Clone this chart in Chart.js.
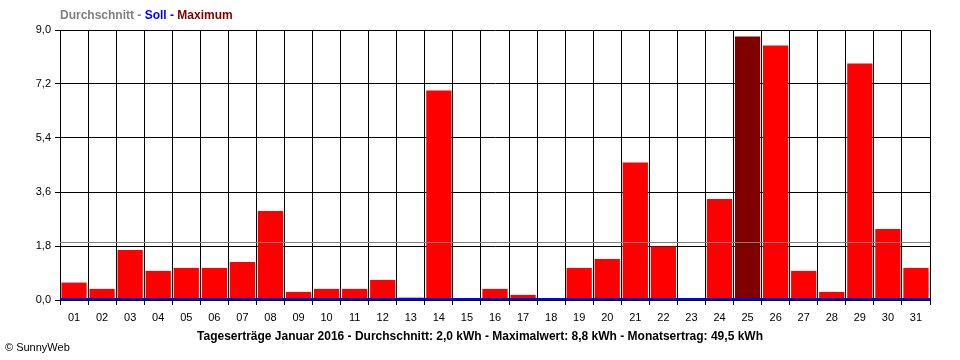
<!DOCTYPE html>
<html>
<head>
<meta charset="utf-8">
<script src="https://cdn.jsdelivr.net/npm/chart.js@4"></script>
<style>
  body { margin: 0; background: #fff; }
  #wrap { width: 960px; height: 360px; }
</style>
</head>
<body>
<div id="wrap"><canvas id="day-chart" width="960" height="360"></canvas></div>
<script>
// --- data -------------------------------------------------------------
const days = ['01','02','03','04','05','06','07','08','09','10','11','12','13','14','15','16',
              '17','18','19','20','21','22','23','24','25','26','27','28','29','30','31'];
const dailyYield = [0.58, 0.37, 1.67, 0.97, 1.07, 1.07, 1.27, 2.97, 0.27, 0.37, 0.37, 0.67, 0.08, 6.98, 0, 0.37,
                    0.17, 0, 1.07, 1.37, 4.58, 1.78, 0, 3.37, 8.78, 8.48, 0.97, 0.27, 7.88, 2.37, 1.07];
const yTickValues = [0, 1.8, 3.6, 5.4, 7.2, 9.0];
const averageValue = 1.95;   // Durchschnitt (graue Linie)
const targetValue = 0.05;    // Soll (blaue Linie)
const headerParts = [
  { text: 'Durchschnitt - ', color: '#808080' },
  { text: 'Soll - ', color: '#0000ff' },
  { text: 'Maximum', color: '#800000' }
];
const captionText = 'Tageserträge Januar 2016 - Durchschnitt: 2,0 kWh - Maximalwert: 8,8 kWh - Monatsertrag: 49,5 kWh';
const copyrightText = '© SunnyWeb';

const FONT = '"Liberation Sans", Arial, sans-serif';

// Maximum-Tag dunkelrot, alle anderen rot
const maxIdx = dailyYield.indexOf(Math.max(...dailyYield));
const barColors = dailyYield.map((v, i) => i === maxIdx ? '#800000' : '#ff0000');

// --- plugins ----------------------------------------------------------
const refLines = {
  id: 'refLines',
  afterDatasetsDraw(chart) {
    const { ctx, chartArea: a, scales: { y } } = chart;
    const draw = (val, color, w) => {
      const py = Math.round(y.getPixelForValue(val)) + (w % 2 ? 0.5 : 0);
      ctx.save();
      ctx.strokeStyle = color;
      ctx.lineWidth = w;
      ctx.beginPath();
      ctx.moveTo(a.left, py);
      ctx.lineTo(a.right, py);
      ctx.stroke();
      ctx.restore();
    };
    draw(averageValue, '#808080', 1);
    draw(targetValue, '#0000ff', 2);
  }
};

const texts = {
  id: 'texts',
  afterDraw(chart) {
    const ctx = chart.ctx;
    ctx.save();
    ctx.textBaseline = 'middle';
    ctx.font = 'bold 12px ' + FONT;
    let x = 60;
    headerParts.forEach(p => {
      ctx.fillStyle = p.color;
      ctx.fillText(p.text, x, 16);
      x += ctx.measureText(p.text).width;
    });
    // Bildunterschrift mittig über die ganze Breite
    ctx.fillStyle = '#000';
    ctx.textAlign = 'center';
    ctx.fillText(captionText, 480, 337);
    ctx.textAlign = 'left';
    ctx.font = '11px ' + FONT;
    ctx.fillText(copyrightText, 5, 348);
    ctx.restore();
  }
};

// --- chart ------------------------------------------------------------
new Chart(document.getElementById('day-chart'), {
  type: 'bar',
  data: {
    labels: days,
    datasets: [{
      data: dailyYield,
      backgroundColor: barColors,
      borderWidth: 0,
      barPercentage: 0.9,
      categoryPercentage: 1.0
    }]
  },
  options: {
    responsive: false,
    animation: false,
    layout: { padding: { left: 0, right: 30, top: 30, bottom: 0 } },
    plugins: {
      legend: { display: false },
      tooltip: { enabled: false }
    },
    scales: {
      x: {
        grid: { offset: true, color: '#000', lineWidth: 1, tickLength: 5 },
        border: { color: '#000' },
        ticks: { color: '#000', font: { family: FONT, size: 11 }, padding: 6, maxRotation: 0, autoSkip: false },
        afterFit: s => { s.height = 60; }
      },
      y: {
        min: 0,
        max: 9,
        grid: { color: '#000', lineWidth: 1, tickLength: 5 },
        border: { color: '#000' },
        afterBuildTicks: s => { s.ticks = yTickValues.map(v => ({ value: v })); },
        ticks: {
          color: '#000',
          font: { family: FONT, size: 11 },
          padding: 4,
          callback: v => v.toFixed(1).replace('.', ',')
        },
        afterFit: s => { s.width = 60; }
      }
    }
  },
  plugins: [refLines, texts]
});
</script>
</body>
</html>
